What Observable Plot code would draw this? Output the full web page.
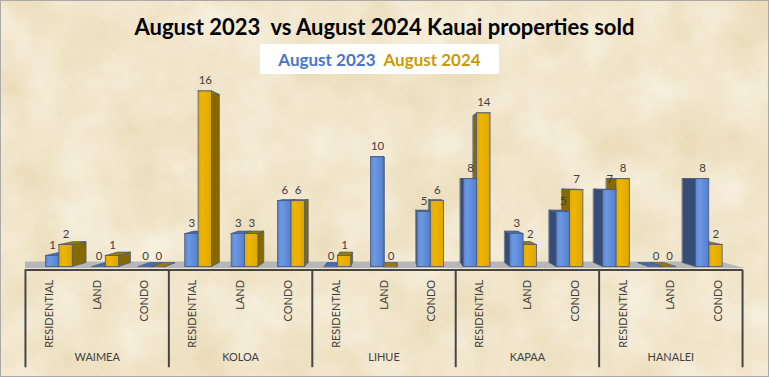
<!DOCTYPE html>
<html>
<head>
<meta charset="utf-8">
<script src="https://cdn.jsdelivr.net/npm/d3@7"></script>
<script src="https://cdn.jsdelivr.net/npm/@observablehq/plot@0.6"></script>
<style>
  body { margin: 0; }
  #chart {
    position: relative; width: 769px; height: 377px; box-sizing: border-box;
    border: 1px solid #a9a9a9; overflow: hidden;
    background-color: #ebdcb9;
    background-image: url("data:image/svg+xml;utf8,<svg xmlns='http://www.w3.org/2000/svg' width='769' height='377'><filter id='a'><feTurbulence type='fractalNoise' baseFrequency='0.018' numOctaves='4' seed='7'/><feColorMatrix values='0 0 0 0 0.97  0 0 0 0 0.93  0 0 0 0 0.84  0 0 0 -1.4 1.2'/></filter><filter id='b'><feTurbulence type='fractalNoise' baseFrequency='0.07' numOctaves='3' seed='2'/><feColorMatrix values='0 0 0 0 0.82  0 0 0 0 0.72  0 0 0 0 0.52  0 0 0 1.3 -0.6'/></filter><rect width='100%' height='100%' filter='url(%23a)' opacity='0.75'/><rect width='100%' height='100%' filter='url(%23b)' opacity='0.3'/></svg>");
    font-family: Lato, "Open Sans", sans-serif;
  }
  #title {
    position: absolute; left: 0; right: 0; top: 12px; text-align: center;
    font-weight: 700; font-size: 22px; color: #000; white-space: nowrap;
  }
  #legend {
    position: absolute; left: 259px; top: 43px; width: 239px; height: 30px;
    background: #fff; display: flex; align-items: center; justify-content: center;
    gap: 8px; font-weight: 700; font-size: 17px;
  }
  #chart > svg { display: block; position: absolute; left: 0; top: 78px; }
</style>
</head>
<body>
<svg width="0" height="0" style="position:absolute">
  <defs>
    <linearGradient id="blueFront" x1="0" x2="1" y1="0" y2="0">
      <stop offset="0" stop-color="#5a85d2"/>
      <stop offset="0.3" stop-color="#6d98e2"/>
      <stop offset="1" stop-color="#547fcd"/>
    </linearGradient>
    <linearGradient id="goldFront" x1="0" x2="1" y1="0" y2="0">
      <stop offset="0" stop-color="#e2a900"/>
      <stop offset="0.3" stop-color="#eeb500"/>
      <stop offset="1" stop-color="#dfa700"/>
    </linearGradient>
  </defs>
</svg>
<div id="chart">
  <div id="title">August 2023&nbsp; vs August 2024 Kauai properties sold</div>
  <div id="legend"><span style="color:#4a74c9">August 2023</span><span style="color:#c99a06">August 2024</span></div>
</div>
<script>
// ---- data ----
const districts = ["WAIMEA", "KOLOA", "LIHUE", "KAPAA", "HANALEI"];
const types = ["RESIDENTIAL", "LAND", "CONDO"];
const sold2023 = [1, 0, 0, 3, 3, 6, 0, 10, 5, 8, 3, 5, 7, 0, 8];
const sold2024 = [2, 1, 0, 16, 3, 6, 1, 0, 6, 14, 2, 7, 8, 0, 2];
const seriesNames = ["August 2023", "August 2024"];

// ---- 3D look (styling constants) ----
const VPX = 7.22, VPY = 8.36, RECESS = 0.971, DEPTH = 0.043, BAR = 0.28;
const proj = (a, vp, k = DEPTH) => a + k * (vp - a);
const frontFill = ["url(#blueFront)", "url(#goldFront)"];
const sideFill = ["#374c77", "#876900"];
const topFill = ["#4a6aa8", "#9a7a00"];
const edge = "#46597c";

const rows = [];
districts.forEach((d, g) => types.forEach((t, j) => {
  const i = g * types.length + j;
  rows.push({i, district: d, type: t, values: [sold2023[i], sold2024[i]]});
}));

const boxes = [];
rows.forEach(r => {
  const pc = VPX + RECESS * (r.i - VPX);
  const left = pc < VPX;
  [0, 1].forEach(s => {
    const xl = s === 0 ? pc - BAR : pc;
    const xr = s === 0 ? pc : pc + BAR;
    const layer = left ? s : 1 - s;
    boxes.push({id: r.i + "-" + s, i: r.i, series: s, name: seriesNames[s], v: r.values[s], xl, xr, left, layer});
  });
});

function sides(layer) {
  const pts = [];
  boxes.filter(b => b.layer === layer).forEach(b => {
    const ex = b.left ? b.xr : b.xl;
    const a = {id: b.id, s: b.series, x: ex, y1: 0, y2: b.v};
    const c = {id: b.id, s: b.series, x: proj(ex, VPX), y1: proj(0, VPY), y2: proj(b.v, VPY)};
    pts.push(...(b.left ? [a, c] : [c, a]));
  });
  return pts;
}
function tops(layer) {
  const pts = [];
  boxes.filter(b => b.layer === layer).forEach(b => {
    pts.push({id: b.id, s: b.series, y: b.v, x1: b.xl, x2: b.xr});
    pts.push({id: b.id, s: b.series, y: proj(b.v, VPY), x1: proj(b.xl, VPX), x2: proj(b.xr, VPX)});
  });
  return pts;
}
function layerMarks(layer) {
  return [
    Plot.area(sides(layer), {x1: "x", x2: "x", y1: "y1", y2: "y2", z: "id", fill: d => sideFill[d.s], stroke: edge, strokeWidth: 0.7}),
    Plot.area(tops(layer), {y1: "y", y2: "y", x1: "x1", x2: "x2", z: "id", fill: d => topFill[d.s], stroke: edge, strokeWidth: 0.7}),
    Plot.rect(boxes.filter(b => b.layer === layer && b.v > 0), {x1: "xl", x2: "xr", y1: 0, y2: "v", fill: d => frontFill[d.series], stroke: edge, strokeWidth: 0.8})
  ];
}

const lastX = rows.length - 0.5;
const floorFrontY = -0.14, FLOOR = 0.07;
const floorPts = [
  {y: floorFrontY, x1: -0.5, x2: lastX + 0.05},
  {y: proj(floorFrontY, VPY, FLOOR), x1: -0.5, x2: proj(lastX + 0.05, VPX, FLOOR)}
];
const seps = d3.range(districts.length + 1).map(g => g * types.length - 0.5);

const H = 297, MT = 12, MB = 8, Y0 = 188;
const chart = Plot.plot({
  width: 769, height: H,
  marginLeft: 24, marginRight: 26, marginTop: MT, marginBottom: MB,
  x: {domain: [-0.5, lastX], axis: null},
  y: {domain: [0, 16], range: [Y0, MT], axis: null},
  color: {type: "identity"},
  style: {background: "transparent", overflow: "visible", fontFamily: "Lato, sans-serif"},
  marks: [
    Plot.area(floorPts, {y1: "y", y2: "y", x1: "x1", x2: "x2", fill: "#b7b7b9"}),
    Plot.ruleY([0], {dy: 3, stroke: "#454545", strokeWidth: 2}),
    Plot.ruleX(seps, {x: d => d, insetTop: Y0 - MT + 3, stroke: "#454545", strokeWidth: 2}),
    ...layerMarks(0),
    ...layerMarks(1),
    Plot.text(boxes, {x: d => (d.xl + d.xr) / 2, y: "v", text: d => String(d.v), dy: -7, lineAnchor: "bottom", fontSize: 11.5, fill: "#404040"}),
    Plot.text(rows, {x: "i", y: 0, text: "type", rotate: -90, textAnchor: "end", dy: 13, fontSize: 11, fill: "#404040"}),
    Plot.text(districts, {x: (d, g) => g * types.length + (types.length - 1) / 2, text: d => d, frameAnchor: "bottom", dy: -7, fontSize: 11, fill: "#404040"})
  ]
});
document.getElementById("chart").appendChild(chart);
</script>
</body>
</html>
